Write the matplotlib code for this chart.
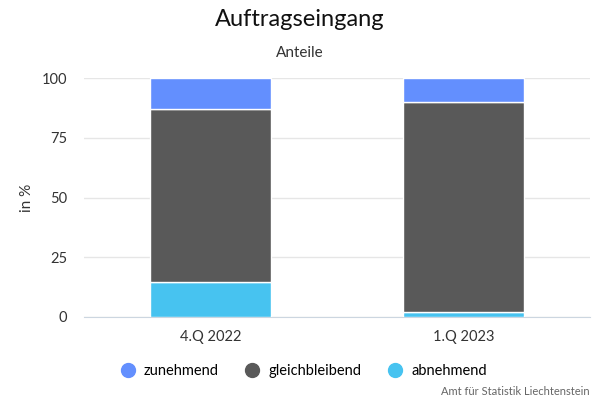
import matplotlib.pyplot as plt
from matplotlib.lines import Line2D

plt.rcParams['font.family'] = ['Lato', 'DejaVu Sans']

quartale = ['4.Q 2022', '1.Q 2023']
abnehmend = [14.5, 2.0]
gleichbleibend = [72.5, 88.0]
zunehmend = [13.0, 10.0]

farben = {'zunehmend': '#638ffe', 'gleichbleibend': '#595959', 'abnehmend': '#47c3f0'}

fig = plt.figure(figsize=(6, 4), dpi=100)
ax = fig.add_axes([0.14, 0.2075, 0.843, 0.5975])

x = range(len(quartale))
breite = 0.48
unten = [0.0] * len(quartale)
for name, werte in [('abnehmend', abnehmend), ('gleichbleibend', gleichbleibend), ('zunehmend', zunehmend)]:
    ax.bar(x, werte, breite, bottom=unten, color=farben[name], edgecolor='white', linewidth=1, zorder=3)
    unten = [u + w for u, w in zip(unten, werte)]

ax.set_xlim(-0.5, len(quartale) - 0.5)
ax.set_ylim(0, 100)
ax.set_yticks([0, 25, 50, 75, 100])
ax.set_xticks(list(x))
ax.set_xticklabels(quartale)
ax.grid(axis='y', color='#e6e6e6', linewidth=1, zorder=0)
for s in ['top', 'right', 'left']:
    ax.spines[s].set_visible(False)
ax.spines['bottom'].set_color('#ccd6e0')
ax.tick_params(axis='y', length=0, labelsize=10.5, colors='#333333', pad=12)
ax.tick_params(axis='x', length=0, labelsize=10.5, colors='#333333', pad=9)
ax.set_ylabel('in %', fontsize=11, color='#333333', labelpad=6)

fig.text(0.5, 0.95, 'Auftragseingang', ha='center', va='center', fontsize=17, color='#111111')
fig.text(0.5, 0.868, 'Anteile', ha='center', va='center', fontsize=11, color='#333333')

griffe = [Line2D([], [], marker='o', linestyle='', markersize=10, color=farben[n]) for n in ['zunehmend', 'gleichbleibend', 'abnehmend']]
fig.legend(griffe, ['zunehmend', 'gleichbleibend', 'abnehmend'], loc='center', bbox_to_anchor=(0.5, 0.072),
           ncol=3, frameon=False, fontsize=10.5, handletextpad=0.1, columnspacing=1.3)

fig.text(0.983, 0.022, 'Amt für Statistik Liechtenstein', ha='right', va='center', fontsize=8, color='#666666')

fig.savefig('out.png', dpi=100)
